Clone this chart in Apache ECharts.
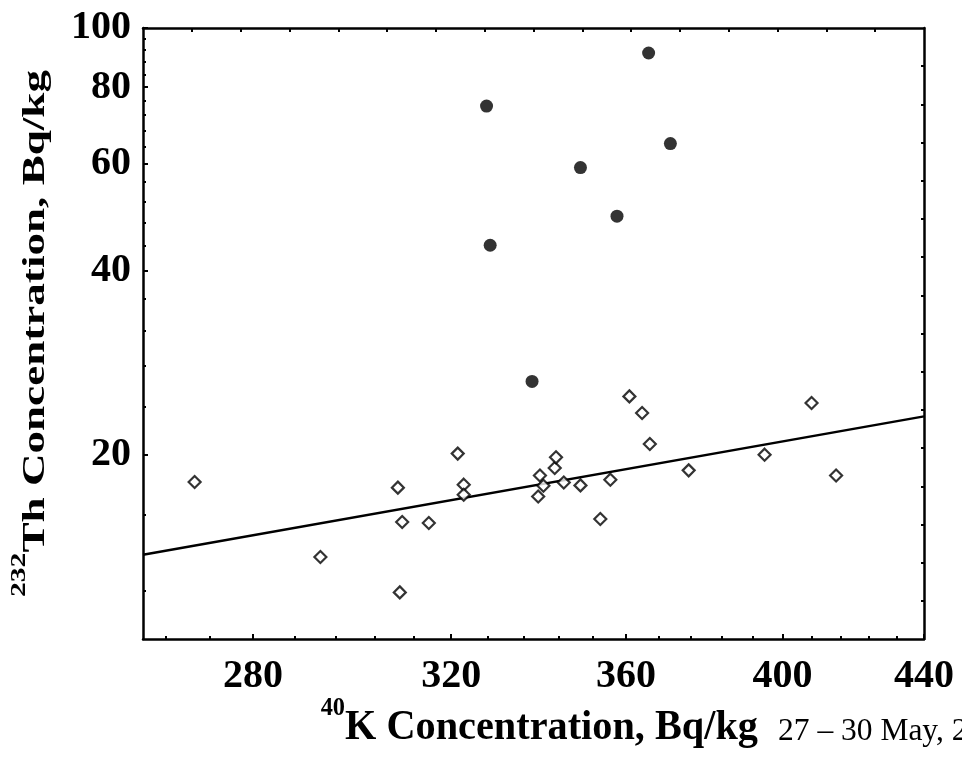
<!DOCTYPE html>
<html><head><meta charset="utf-8">
<script src="https://cdn.jsdelivr.net/npm/echarts@6/dist/echarts.min.js"></script>
<style>html,body{margin:0;padding:0;background:#fff}#c{width:962px;height:770px}</style>
</head><body><div id="c"></div>
<script>
// ---- data (40K vs 232Th, Bq/kg) ----
const openK  = [269.2, 293.0, 308.7, 309.6, 309.1, 315.2, 321.4, 322.7, 322.7, 339.3, 339.7, 340.5, 343.1, 343.4, 345.2, 349.1, 353.8, 356.2, 360.8, 363.9, 365.8, 375.5, 395.2, 407.9, 414.7];
const openTh = [18.07, 13.62, 17.69, 15.54, 11.92, 15.48, 20.11, 17.89, 17.22, 17.11, 18.52, 17.82, 19.05, 19.83, 18.04, 17.84, 15.72, 18.23, 24.95, 23.44, 20.85, 18.88, 20.03, 24.33, 18.52];
const fillK  = [365.5, 327.7, 370.9, 349.1, 357.8, 328.5, 337.9];
const fillTh = [91.0, 74.5, 64.7, 59.1, 49.2, 44.1, 26.4];
const fitK   = [260, 440];
const fitTh  = [13.74, 23.14];
const xRange = [260, 440];
const yRange = [10, 100];
const xTickLabels = [280, 320, 360, 400, 440];
const yTickLabels = [20, 40, 60, 80, 100];
const xMinorTicks = [264, 272, 280, 288, 296, 304, 312, 320, 328, 336, 344, 352, 360, 368, 376, 384, 392, 400, 408, 416, 424, 432];
const yMinorTicks = [12, 16, 20, 24, 28, 32, 36, 40, 44, 48, 52, 56, 60, 64, 68, 72, 76, 80, 84, 88, 92, 96];
const xTitleSup = '40', xTitleMain = 'K Concentration, Bq/kg';
const yTitleSup = '232', yTitleMain = 'Th Concentration, Bq/kg';
const footer = '27 \u2013 30 May, 2';

const L = Math.log10;
const X0 = L(xRange[0]), X1 = L(xRange[1]), Y0 = L(yRange[0]), Y1 = L(yRange[1]);
const blk = '#000';
const FF = '"Liberation Serif", "Times New Roman", serif';
const fmt = v => String(Math.round(Math.pow(10, v)));
const topTicks = [], rightTicks = [];
for (let k = 1; k < 16; k++) { topTicks.push(X0 + k * (X1 - X0) / 16); rightTicks.push(Y0 + k * (Y1 - Y0) / 16); }

const ctx = document.createElement('canvas').getContext('2d');
function tw(s, font) { ctx.font = font; return ctx.measureText(s).width; }

// y title
const yFm = 32, yFs = 21;
const yFontM = 'bold ' + yFm + 'px ' + FF, yFontS = 'bold ' + yFs + 'px ' + FF;
const ySupW = tw(yTitleSup, yFontS), yMainW = tw(yTitleMain, yFontM);
const ySx = 527 / (ySupW + yMainW);
// x title
const xFm = 43, xFs = 26;
const xFontM = 'bold ' + xFm + 'px ' + FF, xFontS = 'bold ' + xFs + 'px ' + FF;
const xSupW = tw(xTitleSup, xFontS), xMainW = tw(xTitleMain, xFontM);
const xSx = (758 - 345) / xMainW;
const fF = 31.5;
const fFont = 'normal ' + fF + 'px ' + FF;

const lineS = {color: blk, width: 2.5};
function xAx(pos, showLine, len, ticks, labels) {
  return {type: 'value', position: pos, min: X0, max: X1,
    axisLine: {show: showLine, onZero: false, lineStyle: lineS},
    axisTick: {show: true, inside: true, length: len, lineStyle: {color: blk, width: 2}, customValues: ticks},
    axisLabel: labels ? {show: true, customValues: labels, formatter: fmt, color: blk, fontFamily: FF, fontWeight: 'bold', fontSize: 40, margin: 18}
                      : {show: false},
    splitLine: {show: false}};
}
function yAx(pos, showLine, len, ticks, labels) {
  return {type: 'value', position: pos, min: Y0, max: Y1,
    axisLine: {show: showLine, onZero: false, lineStyle: lineS},
    axisTick: {show: true, inside: true, length: len, lineStyle: {color: blk, width: 2}, customValues: ticks},
    axisLabel: labels ? {show: true, customValues: labels, formatter: fmt, color: blk, fontFamily: FF, fontWeight: 'bold', fontSize: 40, margin: 12}
                      : {show: false},
    splitLine: {show: false}};
}

const chart = echarts.init(document.getElementById('c'), null, {renderer: 'canvas'});
chart.setOption({
  animation: false,
  backgroundColor: '#fff',
  grid: {left: 143, top: 28, width: 781, height: 611, containLabel: false, outerBoundsMode: 'none'},
  xAxis: [
    xAx('bottom', true, 3, xMinorTicks.map(L), xTickLabels.map(L)),
    xAx('bottom', false, 5, xTickLabels.map(L), null),
    xAx('top', true, 4, topTicks, null)
  ],
  yAxis: [
    yAx('left', true, 3, yMinorTicks.map(L), yTickLabels.map(L)),
    yAx('left', false, 5, yTickLabels.map(L), null),
    yAx('right', true, 3, rightTicks, null)
  ],
  series: [
    {type: 'line', xAxisIndex: 0, yAxisIndex: 0, data: fitK.map((k, i) => [L(k), L(fitTh[i])]),
     symbol: 'none', lineStyle: {color: blk, width: 2.5}, z: 2},
    {type: 'scatter', xAxisIndex: 0, yAxisIndex: 0, data: openK.map((k, i) => [L(k), L(openTh[i])]),
     symbol: 'diamond', symbolSize: 12, itemStyle: {color: '#fff', borderColor: blk, borderWidth: 2.2}, z: 3},
    {type: 'scatter', xAxisIndex: 0, yAxisIndex: 0, data: fillK.map((k, i) => [L(k), L(fillTh[i])]),
     symbol: 'circle', symbolSize: 13, itemStyle: {color: blk}, z: 3}
  ],
  graphic: [
    {type: 'group', x: 47, y: 597, rotation: Math.PI / 2, scaleX: ySx, children: [
      {type: 'text', x: 0, y: -(0.662 * yFm) + 1 - 0.3375 * yFs,
       style: {text: yTitleSup, font: yFontS, fill: blk, textAlign: 'left', textVerticalAlign: 'middle'}},
      {type: 'text', x: ySupW, y: -0.3375 * yFm,
       style: {text: yTitleMain, font: yFontM, fill: blk, textAlign: 'left', textVerticalAlign: 'middle'}}
    ]},
    {type: 'group', x: 345 - xSupW * xSx, y: 742, scaleX: xSx, children: [
      {type: 'text', x: 0, y: -(0.662 * xFm) + 4 - 0.3375 * xFs,
       style: {text: xTitleSup, font: xFontS, fill: blk, textAlign: 'left', textVerticalAlign: 'middle'}},
      {type: 'text', x: xSupW, y: -0.3375 * xFm,
       style: {text: xTitleMain, font: xFontM, fill: blk, textAlign: 'left', textVerticalAlign: 'middle'}}
    ]},
    {type: 'group', x: 778, y: 742, children: [
      {type: 'text', x: 0, y: -0.3375 * fF,
       style: {text: footer, font: fFont, fill: blk, textAlign: 'left', textVerticalAlign: 'middle'}}
    ]}
  ]
});
</script></body></html>
